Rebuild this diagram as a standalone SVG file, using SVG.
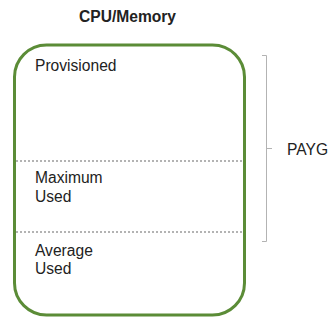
<svg xmlns="http://www.w3.org/2000/svg" width="333" height="320" viewBox="0 0 333 320">
  <style>
    text { font-family: "Liberation Sans", Arial, sans-serif; font-size: 15.6px; fill: #222; }
    .title { font-weight: bold; text-anchor: middle; }
    .divider { stroke: #b3b3b3; stroke-width: 2; stroke-dasharray: 2 2; fill: none; }
    .bracket { stroke: #b3b3b3; stroke-width: 1; fill: none; }
  </style>
  <rect width="333" height="320" fill="#ffffff"/>
  <text class="title" x="127.5" y="21.5">CPU/Memory</text>
  <g id="container">
    <rect x="14.5" y="45" width="230" height="270" rx="32" ry="32" fill="#ffffff" stroke="#5b8c37" stroke-width="3"/>
  </g>
  <g id="connectors">
    <line class="divider" x1="16" y1="161" x2="243" y2="161"/>
    <line class="divider" x1="16" y1="232" x2="243" y2="232"/>
    <path class="bracket" d="M262,55.5 H266.5 V241.5 H262 M266.5,148.5 H272"/>
  </g>
  <g id="provisioned">
    <text x="35" y="70.5">Provisioned</text>
  </g>
  <g id="maximum-used">
    <text x="35" y="183">Maximum</text>
    <text x="35" y="201.5">Used</text>
  </g>
  <g id="average-used">
    <text x="35" y="255.5">Average</text>
    <text x="35" y="274">Used</text>
  </g>
  <g id="payg">
    <text x="287" y="155">PAYG</text>
  </g>
</svg>
